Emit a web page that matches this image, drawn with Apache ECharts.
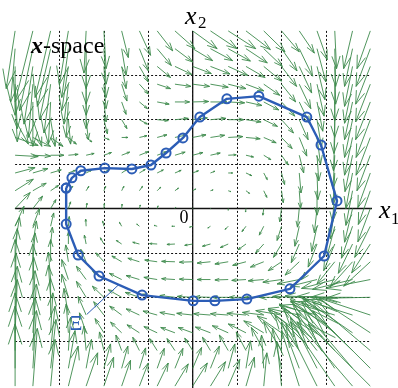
<!DOCTYPE html>
<html><head><meta charset="utf-8">
<script src="https://cdn.jsdelivr.net/npm/echarts@6.0.0/dist/echarts.min.js"></script>
<style>html,body{margin:0;padding:0;background:#fff}#c{width:398px;height:388px}</style>
</head><body><div id="c"></div>
<script>
// quiver grid (x1 columns, x2 rows)
const gridX = [-4,-3.6,-3.2,-2.8,-2.4,-2,-1.6,-1.2,-0.8,-0.4,0,0.4,0.8,1.2,1.6,2,2.4,2.8,3.2,3.6,4];
const gridY = [4,3.6,3.2,2.8,2.4,2,1.6,1.2,0.8,0.4,0,-0.4,-0.8,-1.2,-1.6,-2,-2.4,-2.8,-3.2,-3.6,-4];
// vector components, one row per gridY value
const fieldU = [
[-0.2,-0.4,-0.35,-0.2,-0.05,0.05,0.15,0.25,0.35,0.45,0.55,0.6,0.62,0.55,0.48,0.4,0.34,0.23,0.04,-0.2,-0.3],
[-0.1,-0.3,-0.3,-0.15,0,0.05,0.1,0.2,0.32,0.4,0.45,0.5,0.5,0.48,0.42,0.35,0.3,0.2,0.02,-0.18,-0.32],
[0,-0.2,-0.25,-0.15,0,0.05,0.1,0.2,0.3,0.38,0.42,0.44,0.44,0.43,0.4,0.34,0.28,0.18,0.02,-0.18,-0.33],
[0.05,-0.1,-0.15,-0.1,0,0.05,0.12,0.2,0.3,0.36,0.38,0.4,0.4,0.4,0.36,0.32,0.26,0.16,0,-0.18,-0.33],
[0.05,0,-0.05,-0.05,0,0.05,0.1,0.18,0.27,0.33,0.36,0.37,0.37,0.36,0.34,0.3,0.24,0.13,0,-0.18,-0.33],
[0.3,0.2,0.1,0.05,0.05,0.08,0.12,0.18,0.25,0.3,0.33,0.35,0.35,0.34,0.31,0.27,0.2,0.1,-0.02,-0.18,-0.32],
[0.52,0.4,0.28,0.18,0.13,0.12,0.14,0.17,0.22,0.27,0.3,0.32,0.33,0.32,0.28,0.24,0.17,0.08,-0.03,-0.18,-0.32],
[0.52,0.4,0.3,0.22,0.18,0.17,0.18,0.2,0.22,0.23,0.23,0.22,0.18,0.17,0.16,0.15,0.1,0.04,-0.04,-0.17,-0.3],
[0.45,0.34,0.24,0.16,0.12,0.1,0.12,0.13,0.14,0.14,0.13,0.1,0.1,0.13,0.08,0.07,0.04,0.02,-0.04,-0.15,-0.28],
[0.41,0.3,0.18,0.1,0.06,0.04,0.05,0.07,0.08,0.08,0.07,0.06,0.06,0.08,0.07,0.04,0.03,0,-0.05,-0.15,-0.27],
[0.34,0.22,0.12,0.05,0.02,0.01,0.01,0.02,0.02,0.02,0.01,0.01,0,-0.01,-0.02,-0.04,-0.04,-0.06,-0.1,-0.18,-0.28],
[0.2,0.15,0.07,0.02,-0.01,-0.03,-0.05,-0.06,-0.07,-0.07,-0.07,-0.06,-0.07,-0.09,-0.1,-0.1,-0.1,-0.12,-0.17,-0.25,-0.35],
[0.1,0.08,0.04,0,-0.04,-0.08,-0.12,-0.15,-0.17,-0.18,-0.18,-0.18,-0.18,-0.18,-0.18,-0.18,-0.18,-0.2,-0.25,-0.32,-0.42],
[0.05,0.05,0,-0.06,-0.12,-0.18,-0.22,-0.26,-0.28,-0.3,-0.3,-0.3,-0.3,-0.3,-0.3,-0.3,-0.32,-0.35,-0.4,-0.5,-0.6],
[0,0,-0.05,-0.15,-0.22,-0.26,-0.28,-0.3,-0.3,-0.3,-0.3,-0.3,-0.3,-0.32,-0.35,-0.42,-0.5,-0.6,-0.75,-0.9,-1.0],
[0.02,0.02,-0.05,-0.15,-0.22,-0.26,-0.3,-0.32,-0.33,-0.34,-0.35,-0.35,-0.36,-0.38,-0.42,-0.5,-0.6,-0.72,-0.85,-0.95,-1.0],
[0.05,0.05,0,-0.1,-0.18,-0.23,-0.27,-0.3,-0.32,-0.34,-0.36,-0.38,-0.4,-0.43,-0.48,-0.58,-0.7,-0.85,-1.0,-1.1,-1.15],
[0.05,0.08,0.05,-0.05,-0.15,-0.2,-0.25,-0.28,-0.3,-0.32,-0.33,-0.34,-0.36,-0.4,-0.45,-0.55,-0.7,-0.85,-1.0,-1.15,-1.25],
[0,0.05,0.1,0.05,-0.05,-0.1,-0.13,-0.15,-0.17,-0.18,-0.18,-0.18,-0.2,-0.22,-0.28,-0.4,-0.55,-0.75,-0.95,-1.15,-1.3],
[0,0.08,0.12,0.15,0.12,0.15,0.14,0.14,0.16,0.18,0.2,0.2,0.15,0.1,-0.05,-0.2,-0.4,-0.6,-0.85,-1.1,-1.3],
[0,0.1,0.1,0.22,0.26,0.22,0.2,0.2,0.25,0.3,0.33,0.34,0.26,0.19,0.07,-0.1,-0.4,-0.7,-1.0,-1.25,-1.4]
];
const fieldV = [
[-1.3,-1.6,-1.5,-1.2,-0.95,-0.85,-0.6,-0.55,-0.45,-0.4,-0.4,-0.4,-0.4,-0.42,-0.47,-0.47,-0.5,-0.65,-0.85,-0.85,-0.85],
[-1.2,-1.4,-1.3,-1.1,-0.9,-0.8,-0.6,-0.5,-0.38,-0.3,-0.27,-0.27,-0.28,-0.32,-0.4,-0.5,-0.62,-0.75,-0.85,-0.85,-0.85],
[-1.1,-1.3,-1.2,-1.0,-0.85,-0.7,-0.5,-0.35,-0.25,-0.18,-0.16,-0.17,-0.2,-0.25,-0.33,-0.45,-0.6,-0.75,-0.85,-0.9,-0.85],
[-1.0,-1.2,-1.1,-0.9,-0.7,-0.55,-0.38,-0.22,-0.1,-0.05,-0.05,-0.07,-0.1,-0.15,-0.25,-0.4,-0.55,-0.72,-0.82,-0.88,-0.85],
[-0.9,-1.0,-0.95,-0.8,-0.6,-0.45,-0.28,-0.15,-0.05,0,0.01,0,-0.02,-0.08,-0.18,-0.32,-0.5,-0.66,-0.8,-0.85,-0.85],
[-0.55,-0.6,-0.6,-0.55,-0.45,-0.32,-0.2,-0.1,-0.02,0.03,0.04,0.03,0,-0.05,-0.15,-0.3,-0.45,-0.62,-0.76,-0.85,-0.85],
[-0.18,-0.2,-0.2,-0.15,-0.1,-0.05,0,0.04,0.06,0.06,0.06,0.05,0.02,-0.03,-0.12,-0.25,-0.42,-0.6,-0.75,-0.85,-0.85],
[-0.03,-0.02,0,0.02,0.04,0.06,0.07,0.08,0.08,0.07,0.06,0.05,0.01,-0.04,-0.1,-0.22,-0.4,-0.58,-0.75,-0.82,-0.8],
[0.12,0.1,0.07,0.06,0.06,0.07,0.08,0.08,0.07,0.06,0.05,0.04,0,-0.06,-0.15,-0.26,-0.45,-0.6,-0.72,-0.8,-0.78],
[0.26,0.17,0.12,0.1,0.1,0.1,0.1,0.1,0.08,0.06,0.04,0.02,-0.02,-0.06,-0.15,-0.27,-0.4,-0.55,-0.7,-0.78,-0.76],
[0.36,0.28,0.2,0.15,0.12,0.11,0.1,0.08,0.06,0.03,0.01,-0.01,-0.04,-0.08,-0.15,-0.3,-0.42,-0.55,-0.68,-0.76,-0.75],
[0.45,0.4,0.3,0.22,0.16,0.12,0.09,0.05,0.02,0,-0.02,-0.04,-0.07,-0.12,-0.2,-0.32,-0.45,-0.57,-0.66,-0.72,-0.7],
[0.6,0.52,0.38,0.27,0.2,0.14,0.08,0.04,0.01,-0.01,-0.03,-0.05,-0.08,-0.13,-0.2,-0.3,-0.42,-0.52,-0.6,-0.66,-0.65],
[0.75,0.65,0.5,0.38,0.28,0.2,0.13,0.08,0.04,0.01,-0.01,-0.03,-0.05,-0.08,-0.12,-0.2,-0.3,-0.4,-0.5,-0.56,-0.55],
[0.9,0.8,0.62,0.45,0.3,0.2,0.14,0.09,0.05,0.02,0.01,0,-0.01,-0.02,-0.03,-0.06,-0.1,-0.15,-0.2,-0.22,-0.2],
[1.0,0.9,0.72,0.52,0.36,0.25,0.17,0.11,0.07,0.04,0.02,0.01,0,0,0,0,0.02,0.03,0.02,0,-0.02],
[1.1,1.0,0.82,0.6,0.42,0.3,0.2,0.14,0.09,0.06,0.04,0.03,0.03,0.04,0.06,0.1,0.15,0.22,0.3,0.35,0.38],
[1.2,1.1,0.9,0.65,0.45,0.32,0.24,0.18,0.14,0.12,0.12,0.13,0.16,0.2,0.27,0.38,0.52,0.65,0.75,0.8,0.82],
[1.3,1.2,1.0,0.75,0.55,0.42,0.35,0.3,0.27,0.27,0.28,0.3,0.35,0.42,0.52,0.65,0.8,0.95,1.05,1.1,1.1],
[1.4,1.3,1.1,0.85,0.65,0.55,0.5,0.46,0.45,0.45,0.47,0.5,0.55,0.62,0.75,0.9,1.05,1.15,1.25,1.3,1.3],
[1.4,1.3,1.05,0.9,0.75,0.65,0.58,0.52,0.52,0.5,0.52,0.55,0.6,0.65,0.75,1.0,1.25,1.4,1.45,1.45,1.4]
];
// closed curve Xi (points in order)
const curveX1 = [-2.85,-2.72,-2.52,-1.98,-1.37,-0.94,-0.60,-0.22,0.16,0.77,1.49,2.57,2.89,3.25,2.96,2.19,1.22,0.50,0.01,-1.14,-2.11,-2.58,-2.85];
const curveX2 = [0.46,0.69,0.85,0.91,0.89,0.98,1.25,1.59,2.06,2.47,2.53,2.06,1.43,0.17,-1.07,-1.81,-2.04,-2.08,-2.08,-1.95,-1.52,-1.05,-0.35];
const axisTicks = [-4,-3,-2,-1,0,1,2,3,4];
const xiPointer = [[-2.38,-2.38],[-1.66,-1.71]];

const GREEN = '#3d8a4c';
const BLUE = '#2c5db6';
const SERIF = 'Liberation Serif';

const quiverData = [];
for (let j = 0; j < gridY.length; j++) {
  for (let k = 0; k < gridX.length; k++) {
    quiverData.push([gridX[k], gridY[j], fieldU[j][k], fieldV[j][k]]);
  }
}
const curveData = curveX1.map((x, i) => [x, curveX2[i]]);
curveData.push(curveData[0]);

function renderArrow(params, api) {
  const x = api.value(0), y = api.value(1), u = api.value(2), v = api.value(3);
  const p0 = api.coord([x, y]);
  const p1 = api.coord([x + u, y + v]);
  const dx = p1[0] - p0[0], dy = p1[1] - p0[1];
  const a = 0.33, b = 0.33;
  const h1 = [p1[0] - a * (dx + b * dy), p1[1] - a * (dy - b * dx)];
  const h2 = [p1[0] - a * (dx - b * dy), p1[1] - a * (dy + b * dx)];
  const st = { stroke: GREEN, lineWidth: 0.9, fill: null };
  return {
    type: 'group',
    children: [
      { type: 'polyline', shape: { points: [p0, p1] }, style: st },
      { type: 'polyline', shape: { points: [h1, p1, h2] }, style: st }
    ]
  };
}

function txt(x, y, text, size, opts) {
  return { type: 'text', x: x, y: y, z: 10,
    style: Object.assign({ text: text, fontFamily: SERIF, fontSize: size, fill: '#000',
      textVerticalAlign: 'middle' }, opts || {}) };
}

const chart = echarts.init(document.getElementById('c'), null, { renderer: 'canvas' });
const dotted = { color: '#111', width: 1, type: [2, 2] };
chart.setOption({
  animation: false,
  backgroundColor: '#fff',
  grid: { left: 15.1, right: 27.7, top: 30.9, bottom: 1.9, containLabel: false },
  xAxis: {
    type: 'value', min: axisTicks[0], max: axisTicks[axisTicks.length - 1], interval: 1,
    axisLine: { show: false }, axisTick: { show: false }, axisLabel: { show: false },
    splitLine: { show: true, showMinLine: false, showMaxLine: false, lineStyle: dotted }
  },
  yAxis: {
    type: 'value', min: axisTicks[0], max: axisTicks[axisTicks.length - 1], interval: 1,
    axisLine: { show: false }, axisTick: { show: false }, axisLabel: { show: false },
    splitLine: { show: true, showMinLine: false, showMaxLine: false, lineStyle: dotted }
  },
  series: [
    { type: 'line', data: [[-4, 0], [4.07, 0]], symbol: 'none', clip: false, silent: true,
      lineStyle: { color: '#111', width: 1.3 }, z: 2 },
    { type: 'line', data: [[0, -4.1], [0, 4]], symbol: 'none', clip: false, silent: true,
      lineStyle: { color: '#111', width: 1.3 }, z: 2 },
    { type: 'custom', renderItem: renderArrow, data: quiverData, clip: false, z: 3, silent: true },
    { type: 'line', data: curveData, clip: false, z: 5,
      symbol: 'circle', symbolSize: 9, showAllSymbol: true,
      lineStyle: { color: BLUE, width: 2.4 },
      itemStyle: { color: 'rgba(0,0,0,0)', borderColor: BLUE, borderWidth: 2 } },
    { type: 'line', data: xiPointer, symbol: 'none', clip: false, z: 5,
      lineStyle: { color: BLUE, width: 1 } }
  ],
  graphic: [
    txt(31, 47, 'x', 24, { fontStyle: 'italic', fontWeight: 'bold' }),
    txt(43, 47, '-space', 24),
    txt(379, 211, 'x', 26, { fontStyle: 'italic' }),
    txt(391, 220, '1', 17),
    txt(185, 17, 'x', 26, { fontStyle: 'italic' }),
    txt(198, 24, '2', 17),
    txt(184, 218, '0', 18, { textAlign: 'center' }),
    txt(76, 325, 'Ξ', 20, { textAlign: 'center', fill: BLUE })
  ]
});
</script>
</body></html>
